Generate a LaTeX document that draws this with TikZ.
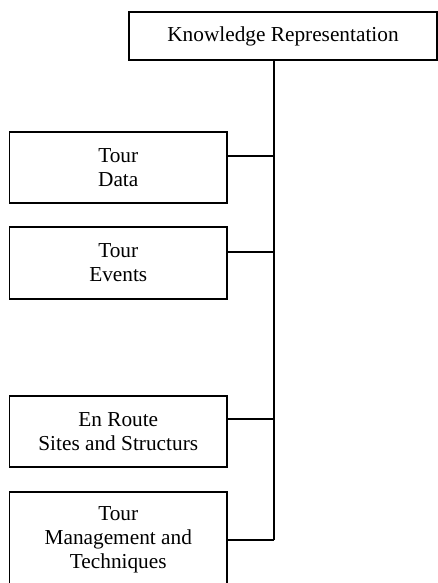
\documentclass[tikz,border=0pt]{standalone}
\usepackage{fontspec}
\setmainfont{Liberation Serif}
\begin{document}
\begin{tikzpicture}[x=1pt,y=-1pt,
  box/.style={draw,line width=1.3pt,rectangle,inner sep=0pt,align=center,
    font=\fontsize{21.3}{24.2}\selectfont},
  link/.style={line width=1.5pt}]
\clip (0,0) rectangle (438,583);
\fill[white] (0,0) rectangle (438,583);
\node[box,minimum width=308pt,minimum height=48pt] (top) at (283,36) {Knowledge Representation};
\node[box,minimum width=217.5pt,minimum height=71pt] (b1) at (118.25,167.5) {Tour\\Data};
\node[box,minimum width=217.5pt,minimum height=72pt] (b2) at (118.25,263) {Tour\\Events};
\node[box,minimum width=217.5pt,minimum height=71pt] (b3) at (118.25,431.5) {En Route\\Sites and Structurs};
\node[box,minimum width=217.5pt,minimum height=96pt] (b4) at (118.25,540) {Tour\\Management and\\Techniques};
\coordinate (j1) at (274,156);
\coordinate (j2) at (274,252);
\coordinate (j3) at (274,419);
\coordinate (j4) at (274,540);
\draw[link] (top.south -| j1) -- (j4);
\draw[link] (j1) -- (j1 -| b1.east);
\draw[link] (j2) -- (j2 -| b2.east);
\draw[link] (j3) -- (j3 -| b3.east);
\draw[link] (j4) -- (j4 -| b4.east);
\end{tikzpicture}
\end{document}
